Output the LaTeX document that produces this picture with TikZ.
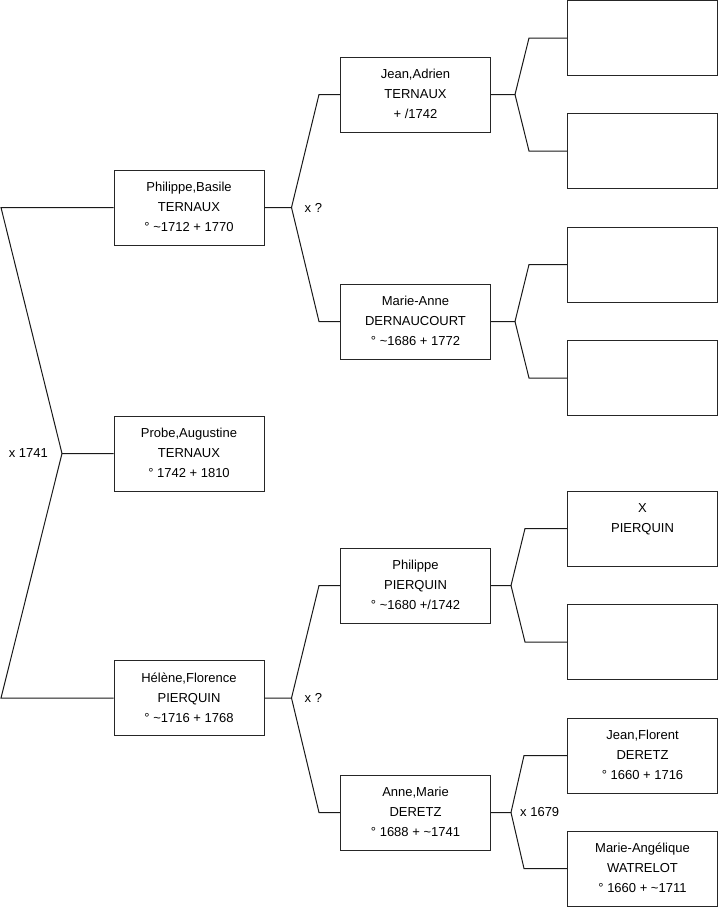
\documentclass[tikz,border=0pt]{standalone}
\usepackage{fontspec}
\setmainfont{Liberation Sans}
\begin{document}
\begin{tikzpicture}[x=1pt,y=-1pt,
  box/.style={draw=black!85, line width=1pt, minimum width=150pt, minimum height=75pt,
    inner sep=0pt, align=center, font=\fontsize{13}{20}\selectfont},
  conn/.style={draw=black!90, line width=1pt},
  lbl/.style={inner sep=0pt, font=\fontsize{13}{20}\selectfont}]
\useasboundingbox (0,0) rectangle (719,908);

% generation 1-2
\node[box] (pb) at (189,207.5) {\strut Philippe,Basile\\\strut TERNAUX\\\strut ° \textasciitilde1712 + 1770};
\node[box] (pa) at (189,453.5) {\strut Probe,Augustine\\\strut TERNAUX\\\strut ° 1742 + 1810};
\node[box] (hf) at (189,698) {\strut Hélène,Florence\\\strut PIERQUIN\\\strut ° \textasciitilde1716 + 1768};

% generation 3
\node[box] (ja) at (415.5,94.5) {\strut Jean,Adrien\\\strut TERNAUX\\\strut + /1742};
\node[box] (ma) at (415.5,321.5) {\strut Marie-Anne\\\strut DERNAUCOURT\\\strut ° \textasciitilde1686 + 1772};
\node[box] (pp) at (415.5,585.5) {\strut Philippe\\\strut PIERQUIN\\\strut ° \textasciitilde1680 +/1742};
\node[box] (am) at (415.5,812.5) {\strut Anne,Marie\\\strut DERETZ\\\strut ° 1688 + \textasciitilde1741};

% generation 4
\node[box] (r1) at (642.5,38) {};
\node[box] (r2) at (642.5,151) {};
\node[box] (r3) at (642.5,264.5) {};
\node[box] (r4) at (642.5,378) {};
\node[box] (r5) at (642.5,528.5) {\strut X\\\strut PIERQUIN\\\strut};
\node[box] (r6) at (642.5,642) {};
\node[box] (r7) at (642.5,755.5) {\strut Jean,Florent\\\strut DERETZ\\\strut ° 1660 + 1716};
\node[box] (r8) at (642.5,868.5) {\strut Marie-Angélique\\\strut WATRELOT\\\strut ° 1660 + \textasciitilde1711};

% root connectors
\coordinate (j0) at (62,453.5);
\coordinate (k0) at (1,0);
\draw[conn] (pa.west) -- (j0) -- (k0 |- pb.west) -- (pb.west);
\draw[conn] (j0) -- (k0 |- hf.west) -- (hf.west);
\node[lbl, anchor=east] (l0) at ([xshift=-14pt]j0) {x 1741};

% Philippe,Basile
\draw[conn] (pb.east) -- ++(27,0) coordinate (j1) -- ([xshift=-21pt]ja.west) -- (ja.west);
\draw[conn] (j1) -- ([xshift=-21pt]ma.west) -- (ma.west);
\node[lbl, anchor=west] (l1) at ([xshift=13pt]j1) {x ?};

% Helene,Florence
\draw[conn] (hf.east) -- ++(27,0) coordinate (j2) -- ([xshift=-21pt]pp.west) -- (pp.west);
\draw[conn] (j2) -- ([xshift=-21pt]am.west) -- (am.west);
\node[lbl, anchor=west] (l2) at ([xshift=13pt]j2) {x ?};

% Jean,Adrien
\draw[conn] (ja.east) -- ++(24,0) coordinate (j3) -- ([xshift=-38pt]r1.west) -- (r1.west);
\draw[conn] (j3) -- ([xshift=-38pt]r2.west) -- (r2.west);

% Marie-Anne
\draw[conn] (ma.east) -- ++(24,0) coordinate (j4) -- ([xshift=-38pt]r3.west) -- (r3.west);
\draw[conn] (j4) -- ([xshift=-38pt]r4.west) -- (r4.west);

% Philippe PIERQUIN
\draw[conn] (pp.east) -- ++(20,0) coordinate (j5) -- ([xshift=-42pt]r5.west) -- (r5.west);
\draw[conn] (j5) -- ([xshift=-42pt]r6.west) -- (r6.west);

% Anne,Marie
\draw[conn] (am.east) -- ++(20,0) coordinate (j6) -- ([xshift=-43pt]r7.west) -- (r7.west);
\draw[conn] (j6) -- ([xshift=-43pt]r8.west) -- (r8.west);
\node[lbl, anchor=west] (l3) at ([xshift=9pt]j6) {x 1679};
\end{tikzpicture}
\end{document}
